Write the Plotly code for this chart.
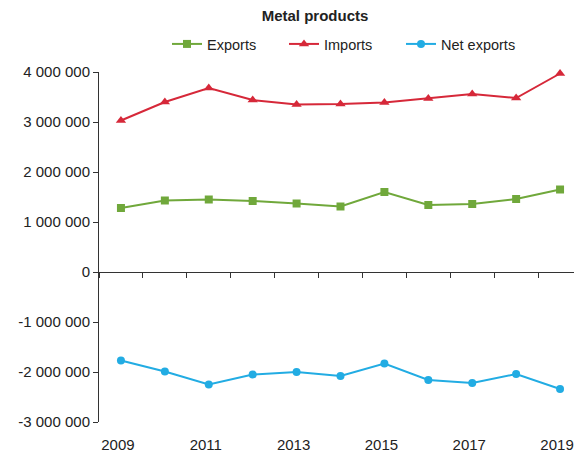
import plotly.graph_objects as go

years = [2009, 2010, 2011, 2012, 2013, 2014, 2015, 2016, 2017, 2018, 2019]
exports = [1280000, 1430000, 1450000, 1420000, 1370000, 1310000, 1600000, 1340000, 1360000, 1460000, 1650000]
imports = [3030000, 3400000, 3680000, 3440000, 3350000, 3360000, 3390000, 3470000, 3560000, 3480000, 3970000]
net_exports = [-1770000, -1990000, -2250000, -2050000, -2000000, -2080000, -1830000, -2160000, -2220000, -2040000, -2340000]

x_label_years = [2009, 2011, 2013, 2015, 2017, 2019]
x_label_text = ["2009", "2011", "2013", "2015", "2017", "2019"]
y_tick_vals = [-3000000, -2000000, -1000000, 0, 1000000, 2000000, 3000000, 4000000]
y_tick_text = ["-3 000 000", "-2 000 000", "-1 000 000", "0", "1 000 000", "2 000 000", "3 000 000", "4 000 000"]

GREEN = "#70A83B"
RED = "#D62839"
BLUE = "#22ACE3"
AXIS = "#333333"
FONT = "Liberation Sans, Arial, sans-serif"

W, H = 574, 448          # page body has an 8px margin
L, R, T, B = 91, 0, 64, 34
PW, PH = W - L - R, H - T - B

fig = go.Figure()
fig.add_trace(go.Scatter(x=years, y=exports, name="Exports", mode="lines+markers",
                         line=dict(color=GREEN, width=2), cliponaxis=False,
                         marker=dict(symbol="square", size=8, color=GREEN)))
fig.add_trace(go.Scatter(x=years, y=imports, name="Imports", mode="lines+markers",
                         line=dict(color=RED, width=2), cliponaxis=False,
                         marker=dict(symbol="triangle-up", size=9, color=RED)))
fig.add_trace(go.Scatter(x=years, y=net_exports, name="Net exports", mode="lines+markers",
                         line=dict(color=BLUE, width=2), cliponaxis=False,
                         marker=dict(symbol="circle", size=8, color=BLUE)))
# invisible trace on second x axis for the bottom labels
fig.add_trace(go.Scatter(x=years, y=exports, xaxis="x2", showlegend=False,
                         mode="markers", marker=dict(opacity=0), hoverinfo="skip"))

boundaries = [y - 0.5 for y in years] + [years[-1] + 0.5]
x_range = [years[0] - 0.5, years[-1] + 0.5]

fig.update_layout(
    width=W, height=H,
    margin=dict(l=L, r=R, t=T, b=B, autoexpand=False),
    paper_bgcolor="white", plot_bgcolor="white",
    font=dict(family=FONT, size=14.5, color="#222222"),
    title=dict(text="<b>Metal products</b>", x=307 / W, xanchor="center", xref="container",
               y=1 - 7.5 / H, yanchor="middle", yref="container",
               font=dict(size=15, color="#222222")),
    legend=dict(orientation="h", x=(159 - L) / PW, xanchor="left",
                y=1 + 28 / PH, yanchor="middle",
                font=dict(size=14.5), itemwidth=30, entrywidth=72, entrywidthmode="pixels",
                bgcolor="rgba(0,0,0,0)"),
    showlegend=True,
    xaxis=dict(range=x_range, tickmode="array", tickvals=boundaries,
               ticktext=[""] * len(boundaries), showticklabels=False,
               ticks="outside", ticklen=5, tickcolor=AXIS, tickwidth=1,
               showline=True, linecolor=AXIS, linewidth=1,
               showgrid=False, zeroline=False,
               anchor="free", position=3 / 7),
    xaxis2=dict(range=x_range, overlaying="x", matches="x", side="bottom",
                anchor="y", tickmode="array", tickvals=x_label_years, ticktext=x_label_text,
                ticks="outside", ticklen=9, tickcolor="rgba(0,0,0,0)",
                ticklabelshift=-3,
                showline=False, showgrid=False, zeroline=False,
                tickfont=dict(size=15)),
    yaxis=dict(range=[-3000000, 4000000], tickmode="array", tickvals=y_tick_vals,
               ticktext=y_tick_text, ticks="outside", ticklen=5, tickcolor=AXIS,
               showline=True, linecolor=AXIS, linewidth=1, showgrid=False,
               zeroline=False, tickfont=dict(size=15)),
)

fig.write_html("out.html")
